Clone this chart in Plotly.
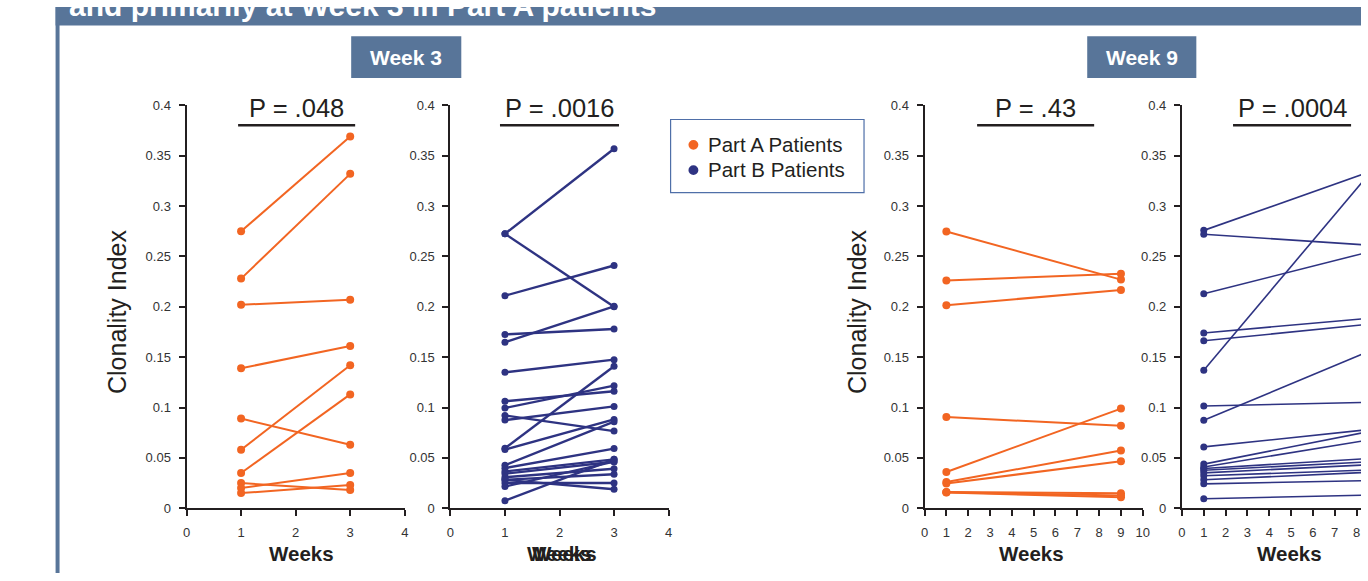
import plotly.graph_objects as go

# ---------------- data ----------------
weeks_short = [1, 3]
weeks_long = [1, 9]

# Week 3 comparison
partA_w3_week1 = [0.275, 0.228, 0.202, 0.139, 0.089, 0.058, 0.035, 0.025, 0.020, 0.015]
partA_w3_week3 = [0.369, 0.332, 0.207, 0.161, 0.063, 0.142, 0.113, 0.018, 0.035, 0.023]

partB_w3_week1 = [0.2725, 0.2725, 0.211, 0.1726, 0.1649, 0.1349, 0.1062, 0.0995, 0.0921, 0.0875,
                  0.0595, 0.0582, 0.0427, 0.0398, 0.0365, 0.0343, 0.0308, 0.0282, 0.0282, 0.025,
                  0.0215, 0.0075]
partB_w3_week3 = [0.357, 0.200, 0.241, 0.178, 0.2005, 0.1475, 0.1162, 0.1217, 0.0766, 0.1011,
                  0.141, 0.0882, 0.0859, 0.0592, 0.0485, 0.0462, 0.0392, 0.0337, 0.0189, 0.025,
                  0.0462, 0.0485]

# Week 9 comparison
partA_w9_week1 = [0.2747, 0.226, 0.2016, 0.0905, 0.036, 0.026, 0.0245, 0.0161, 0.0158, 0.0155]
partA_w9_week9 = [0.227, 0.2329, 0.2167, 0.0818, 0.0989, 0.0573, 0.0467, 0.0148, 0.0126, 0.011]

partB_w9_week1 = [0.2759, 0.272, 0.213, 0.174, 0.1663, 0.137, 0.1015, 0.0873, 0.0609, 0.0438,
                  0.041, 0.0395, 0.0377, 0.0351, 0.0322, 0.0283, 0.0242, 0.0094]
partB_w9_week9 = [0.337, 0.2606, 0.2568, 0.1895, 0.1836, 0.343, 0.1054, 0.1598, 0.0791, 0.078,
                  0.0693, 0.0499, 0.0465, 0.0436, 0.0383, 0.0361, 0.0276, 0.0132]

p_values = ["P = .048", "P = .0016", "P = .43", "P = .0004"]
week_labels = ["Week 3", "Week 9"]
legend_labels = ["Part A Patients", "Part B Patients"]
header_text = "and primarily at Week 3 in Part A patients"

y_tickvals = [0, 0.05, 0.1, 0.15, 0.2, 0.25, 0.3, 0.35, 0.4]
y_ticktext = ["0", "0.05", "0.1", "0.15", "0.2", "0.25", "0.3", "0.35", "0.4"]
x_ticks_short = [0, 1, 2, 3, 4]
x_ticks_long = [0, 1, 2, 3, 4, 5, 6, 7, 8, 9, 10]

# ---------------- style ----------------
W, H = 1368, 581
ORANGE = "#f26522"
NAVY = "#2e3382"
BLUE = "#587599"
INK = "#231f20"
FONT = "Arial, 'Liberation Sans', sans-serif"


def X(px):
    """pixel from left -> paper x"""
    return px / W


def Y(py):
    """pixel from top -> paper y"""
    return 1 - py / H


def pair_trace(x_pair, v0, v1, color, ax, width, msize):
    xs, ys = [], []
    for a, b in zip(v0, v1):
        xs += [x_pair[0], x_pair[1], None]
        ys += [a, b, None]
    return go.Scatter(x=xs, y=ys, mode="lines+markers",
                      line=dict(color=color, width=width),
                      marker=dict(color=color, size=msize),
                      xaxis="x" + ax, yaxis="y" + ax,
                      showlegend=False, hoverinfo="skip", connectgaps=False)


fig = go.Figure()
fig.add_trace(pair_trace(weeks_short, partA_w3_week1, partA_w3_week3, ORANGE, "", 2, 8))
fig.add_trace(pair_trace(weeks_short, partB_w3_week1, partB_w3_week3, NAVY, "2", 2.4, 7))
fig.add_trace(pair_trace(weeks_long, partA_w9_week1, partA_w9_week9, ORANGE, "3", 2, 8))
fig.add_trace(pair_trace(weeks_long, partB_w9_week1, partB_w9_week9, NAVY, "4", 1.6, 7))

ydom = [Y(514.5), Y(101)]
axis_common = dict(showline=True, linecolor=INK, linewidth=2, ticks="outside", ticklen=6,
                   tickwidth=2, tickcolor=INK, showgrid=False, zeroline=False,
                   tickfont=dict(family=FONT, size=13, color="#333333"), fixedrange=True)

px_per_week_long = (1148 - 928) / 10
x_domains = [[X(184), X(404)], [X(450), X(670)], [X(928), X(1148)], [X(1187.5), 1.0]]
x_ranges = [[0, 4], [0, 4], [0, 10], [0, (W - 1187.5) / px_per_week_long]]
x_tickvals = [x_ticks_short, x_ticks_short, x_ticks_long, x_ticks_long]

layout_axes = {}
for i in range(4):
    sfx = "" if i == 0 else str(i + 1)
    layout_axes["xaxis" + sfx] = dict(axis_common, domain=x_domains[i], range=x_ranges[i],
                                       tickvals=x_tickvals[i], anchor="y" + sfx,
                                       ticklabelstandoff=5)
    layout_axes["yaxis" + sfx] = dict(axis_common, domain=ydom, range=[0, 0.4],
                                       tickvals=y_tickvals, ticktext=y_ticktext,
                                       anchor="x" + sfx, ticklabelstandoff=5)
fig.update_layout(**layout_axes)

shapes = []
annotations = []

# header bar + left border stripe
shapes.append(dict(type="rect", xref="paper", yref="paper", x0=X(52), x1=1.0, y0=Y(19), y1=1.0,
                   fillcolor=BLUE, line=dict(width=0), layer="below"))
shapes.append(dict(type="rect", xref="paper", yref="paper", x0=X(52), x1=X(56), y0=0, y1=1.0,
                   fillcolor=BLUE, line=dict(width=0), layer="below"))
annotations.append(dict(text="<b>" + header_text + "</b>", xref="paper", yref="paper",
                        x=X(64), y=Y(17.5), xanchor="left", yanchor="bottom", showarrow=False,
                        font=dict(family=FONT, size=30, color="white")))

# week boxes
for lbl, (x0, x1) in zip(week_labels, [(350, 461), (1092, 1202)]):
    shapes.append(dict(type="rect", xref="paper", yref="paper", x0=X(x0), x1=X(x1),
                       y0=Y(73), y1=Y(30), fillcolor=BLUE, line=dict(width=0)))
    annotations.append(dict(text="<b>" + lbl + "</b>", xref="paper", yref="paper",
                            x=X((x0 + x1) / 2), y=Y(52), xanchor="center", yanchor="middle",
                            showarrow=False, font=dict(family=FONT, size=21, color="white")))

# p-values with underline
p_pos = [(236, 354), (500, 620), (981, 1099), (1239, 1358)]
for txt, (x0, x1) in zip(p_values, p_pos):
    annotations.append(dict(text=txt, xref="paper", yref="paper", x=X((x0 + x1) / 2), y=Y(104),
                            xanchor="center", yanchor="middle", showarrow=False,
                            font=dict(family=FONT, size=25.5, color=INK)))
    shapes.append(dict(type="line", xref="paper", yref="paper", x0=X(x0), x1=X(x1),
                       y0=Y(121.5), y1=Y(121.5), line=dict(color=INK, width=2.5)))

# y titles
for cx in [114, 860]:
    annotations.append(dict(text="Clonality Index", xref="paper", yref="paper", x=X(cx),
                            y=Y(313), xanchor="center", yanchor="middle", textangle=-90,
                            showarrow=False, font=dict(family=FONT, size=25, color=INK)))

# x titles (the second panel shows two overlapping copies in the source)
for cx in [300, 560, 565, 1036, 1296]:
    annotations.append(dict(text="<b>Weeks</b>", xref="paper", yref="paper", x=X(cx), y=Y(561),
                            xanchor="center", yanchor="middle", showarrow=False,
                            font=dict(family=FONT, size=20.5, color=INK)))

# legend box
shapes.append(dict(type="rect", xref="paper", yref="paper", x0=X(672), x1=X(867),
                   y0=Y(190.5), y1=Y(115.5), line=dict(color="#4f6fa8", width=1.2),
                   fillcolor="white"))
for lbl, col, cy in zip(legend_labels, [ORANGE, NAVY], [141.5, 167.5]):
    shapes.append(dict(type="circle", xref="paper", yref="paper", x0=X(690), x1=X(700),
                       y0=Y(cy + 5), y1=Y(cy - 5), fillcolor=col, line=dict(width=0)))
    annotations.append(dict(text=lbl, xref="paper", yref="paper", x=X(708), y=Y(cy - 0.5),
                            xanchor="left", yanchor="middle", showarrow=False,
                            font=dict(family=FONT, size=20.5, color=INK)))

fig.update_layout(width=W, height=H, margin=dict(l=0, r=0, t=0, b=0),
                  paper_bgcolor="white", plot_bgcolor="white",
                  shapes=shapes, annotations=annotations, showlegend=False,
                  font=dict(family=FONT))

# the page's default 8px body margin would push the 1368x581 figure out of the window
fig.write_html("out.html",
               post_script="document.body.style.margin='0px';",
               config={"displayModeBar": False})
